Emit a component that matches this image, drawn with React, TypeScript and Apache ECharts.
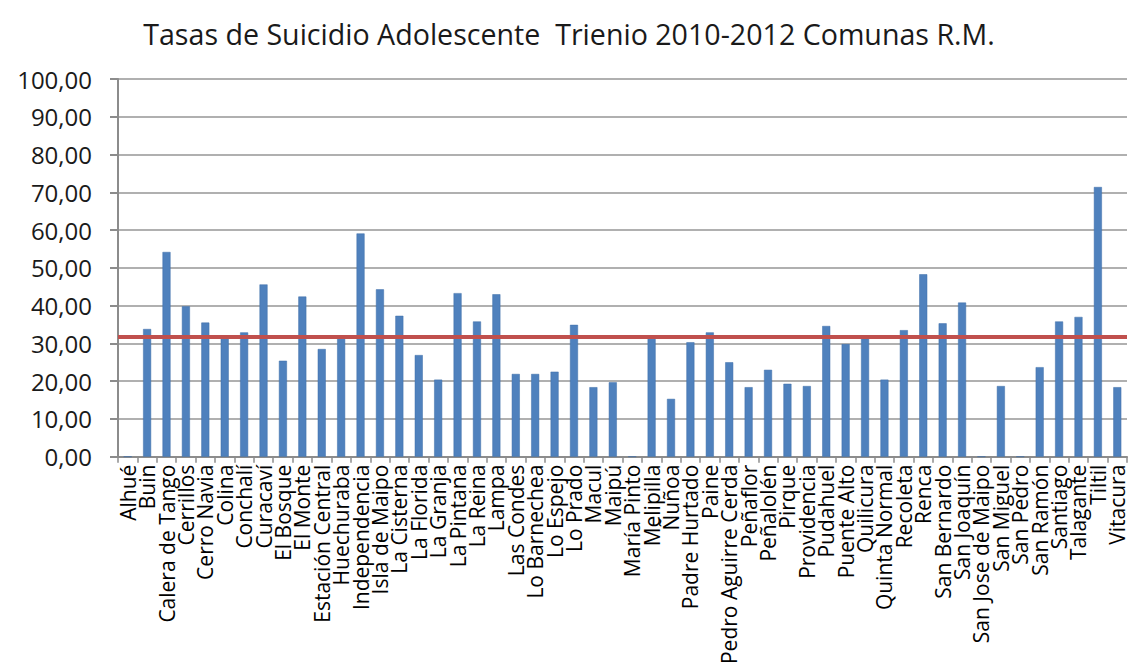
import React, { useEffect, useRef } from "react";
import * as echarts from "echarts";

const titleText = "Tasas de Suicidio Adolescente  Trienio 2010-2012 Comunas R.M.";

const comunas = [
  "Alhué", "Buin", "Calera de Tango", "Cerrillos", "Cerro Navia", "Colina",
  "Conchalí", "Curacaví", "El Bosque", "El Monte", "Estación Central", "Huechuraba",
  "Independencia", "Isla de Maipo", "La Cisterna", "La Florida", "La Granja",
  "La Pintana", "La Reina", "Lampa", "Las Condes", "Lo Barnechea", "Lo Espejo",
  "Lo Prado", "Macul", "Maipú", "María Pinto", "Melipilla", "Ñuñoa",
  "Padre Hurtado", "Paine", "Pedro Aguirre Cerda", "Peñaflor", "Peñalolén",
  "Pirque", "Providencia", "Pudahuel", "Puente Alto", "Quilicura", "Quinta Normal",
  "Recoleta", "Renca", "San Bernardo", "San Joaquín", "San Jose de Maipo",
  "San Miguel", "San Pedro", "San Ramón", "Santiago", "Talagante", "Tiltil",
  "Vitacura",
];

const tasas = [
  0, 33.8, 54.2, 39.8, 35.5, 31.6,
  32.9, 45.6, 25.4, 42.4, 28.5, 31.6,
  59.1, 44.3, 37.3, 26.9, 20.4,
  43.3, 35.8, 43.0, 21.9, 21.9, 22.5,
  34.9, 18.4, 19.7, 0, 31.6, 15.3,
  30.3, 32.9, 25.0, 18.4, 23.0,
  19.3, 18.7, 34.6, 29.8, 31.3, 20.4,
  33.5, 48.3, 35.3, 40.8, 0,
  18.7, 0, 23.7, 35.8, 37.0, 71.4,
  18.4,
];

// Regional reference rate drawn as a horizontal line
const tasaRegional = 31.7;

const yTicks = { min: 0, max: 100, interval: 10 };

const FONT = "'Open Sans', 'Noto Sans', sans-serif";

export default function App() {
  const ref = useRef<HTMLDivElement>(null);

  useEffect(() => {
    document.body.style.margin = "0";
    if (!ref.current) return;
    const chart = echarts.init(ref.current, undefined, { renderer: "svg" });
    chart.setOption({
      animation: false,
      backgroundColor: "#ffffff",
      title: {
        text: titleText,
        left: "center",
        top: 14,
        textStyle: {
          fontFamily: FONT,
          fontSize: 28.6,
          fontWeight: "normal",
          color: "#1a1a1a",
        },
      },
      grid: { left: 118, right: 11, top: 79, bottom: 209 },
      xAxis: {
        type: "category",
        data: comunas,
        axisLine: { lineStyle: { color: "#8c8c8c", width: 2 } },
        axisTick: { show: true, length: 6, lineStyle: { color: "#8c8c8c", width: 1.5 } },
        axisLabel: {
          interval: 0,
          rotate: 90,
          margin: 8,
          fontFamily: FONT,
          fontSize: 21,
          color: "#000000",
        },
      },
      yAxis: {
        type: "value",
        min: yTicks.min,
        max: yTicks.max,
        interval: yTicks.interval,
        axisLine: { show: true, lineStyle: { color: "#8c8c8c", width: 2 } },
        axisTick: { show: true, length: 8, lineStyle: { color: "#8c8c8c", width: 2 } },
        splitLine: { lineStyle: { color: "#b0b0b0", width: 2 } },
        axisLabel: {
          margin: 26,
          fontFamily: FONT,
          fontSize: 24,
          color: "#1a1a1a",
          formatter: (v: number) => v.toFixed(2).replace(".", ","),
        },
      },
      series: [
        {
          type: "bar",
          data: tasas,
          barWidth: 8,
          itemStyle: { color: "#4f81bd", borderColor: "#3f6fa8", borderWidth: 0.5 },
          markLine: {
            symbol: "none",
            silent: true,
            label: { show: false },
            lineStyle: { color: "#c0504d", width: 4, type: "solid" },
            data: [{ yAxis: tasaRegional }],
          },
        },
      ],
    });
    return () => chart.dispose();
  }, []);

  return <div ref={ref} style={{ width: 1138, height: 667 }} />;
}
